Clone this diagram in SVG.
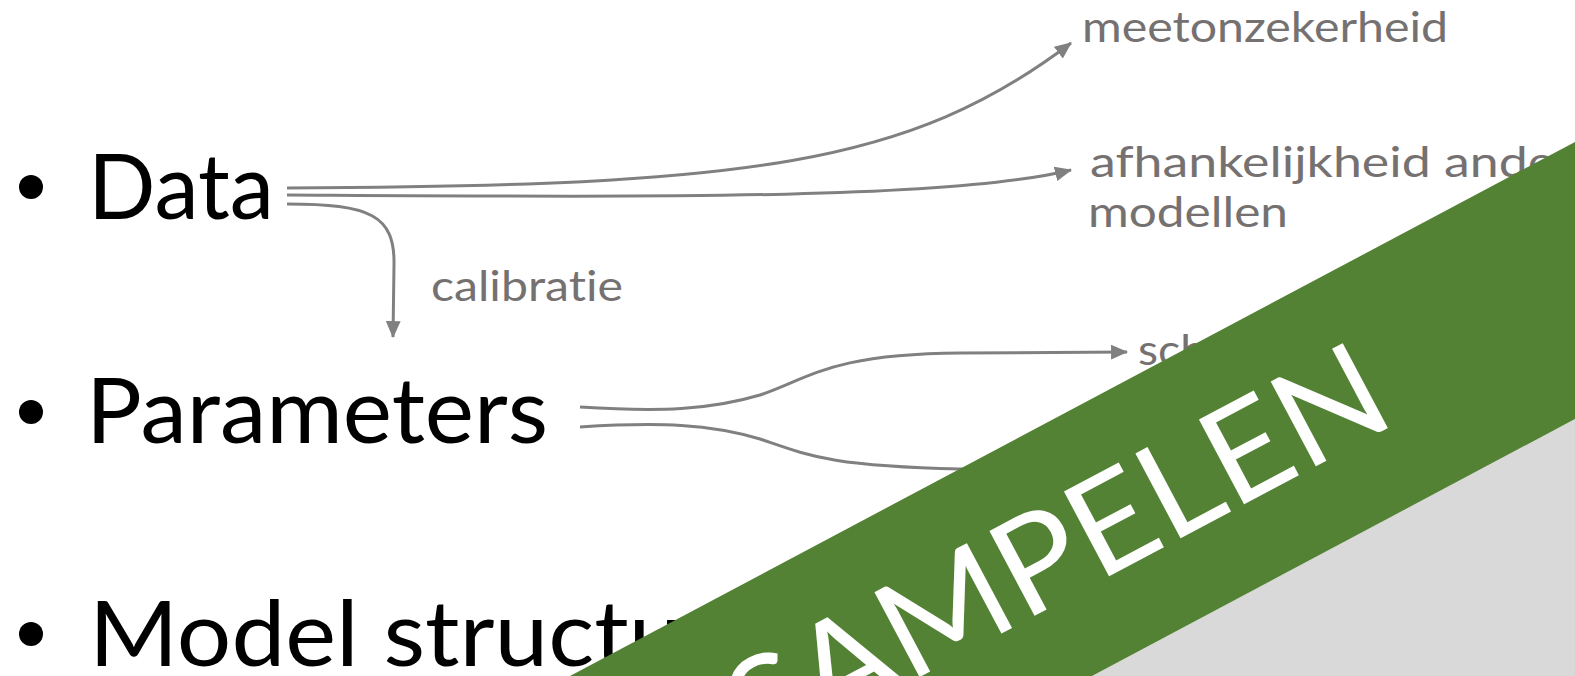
<svg xmlns="http://www.w3.org/2000/svg" width="1575" height="676" viewBox="0 0 1575 676">
<defs>
<style>
text{font-variant-ligatures:none;}
.big{font-family:Lato,"Liberation Sans",sans-serif;font-weight:400;font-size:92px;fill:#000;}
.lbl{font-family:Lato,"Liberation Sans",sans-serif;font-weight:400;font-size:42px;fill:#767171;}
.con{fill:none;stroke:#808080;stroke-width:3;}
.ban{font-family:Lato,"Liberation Sans",sans-serif;font-weight:400;font-size:134px;fill:#fff;}
</style>
<marker id="ah" viewBox="0 0 16 14" refX="15" refY="7" markerWidth="17" markerHeight="15" markerUnits="userSpaceOnUse" orient="auto">
<path d="M0,0 L16,7 L0,14 z" fill="#808080"/>
</marker>
</defs>
<rect width="1575" height="676" fill="#fff"/>
<g id="data"><circle cx="31" cy="187" r="12" fill="#000"/><text class="big" x="88" y="219" textLength="186" lengthAdjust="spacingAndGlyphs">Data</text></g>
<g id="parameters"><circle cx="31" cy="412" r="12" fill="#000"/><text class="big" x="86" y="443" textLength="462" lengthAdjust="spacingAndGlyphs">Parameters</text></g>
<g id="model"><circle cx="31" cy="634" r="12" fill="#000"/><text class="big" x="89" y="666" textLength="682" lengthAdjust="spacingAndGlyphs">Model structuur</text></g>
<g id="meetonzekerheid"><text class="lbl" x="1082" y="42" textLength="366" lengthAdjust="spacingAndGlyphs">meetonzekerheid</text></g>
<g id="afhankelijkheid"><text class="lbl" x="1090" y="177" textLength="484" lengthAdjust="spacingAndGlyphs">afhankelijkheid ander</text><text class="lbl" x="1088" y="227" textLength="200" lengthAdjust="spacingAndGlyphs">modellen</text></g>
<g id="calibratie"><text class="lbl" x="431" y="301" textLength="192" lengthAdjust="spacingAndGlyphs">calibratie</text></g>
<g id="sch"><text class="lbl" x="1138" y="365" textLength="68" lengthAdjust="spacingAndGlyphs">sch</text></g>
<g id="connectors">
<path class="con" marker-end="url(#ah)" d="M287,188 C750,186 910,165 1071,43"/>
<path class="con" marker-end="url(#ah)" d="M287,195 C650,197 950,200 1071,170"/>
<path class="con" marker-end="url(#ah)" d="M287,204 C370,204 395,215 394,265 L393,337"/>
<path class="con" marker-end="url(#ah)" d="M580,407 C660,412 710,410 760,395 C810,378 830,354 960,353 L1127,352"/>
<path class="con" marker-end="url(#ah)" d="M580,427 C660,422 710,424 760,439 C810,456 830,466 960,469 L1127,471"/>
</g>
<g id="banner">
<polygon points="1092,676 1575,419 1575,676" fill="#d9d9d9"/>
<polygon points="570,676 1575,142 1575,419 1092,676" fill="#548235"/>
<text class="ban" transform="translate(1399,422) rotate(-28)" text-anchor="end" textLength="725" lengthAdjust="spacingAndGlyphs">SAMPELEN</text>
</g>
</svg>
